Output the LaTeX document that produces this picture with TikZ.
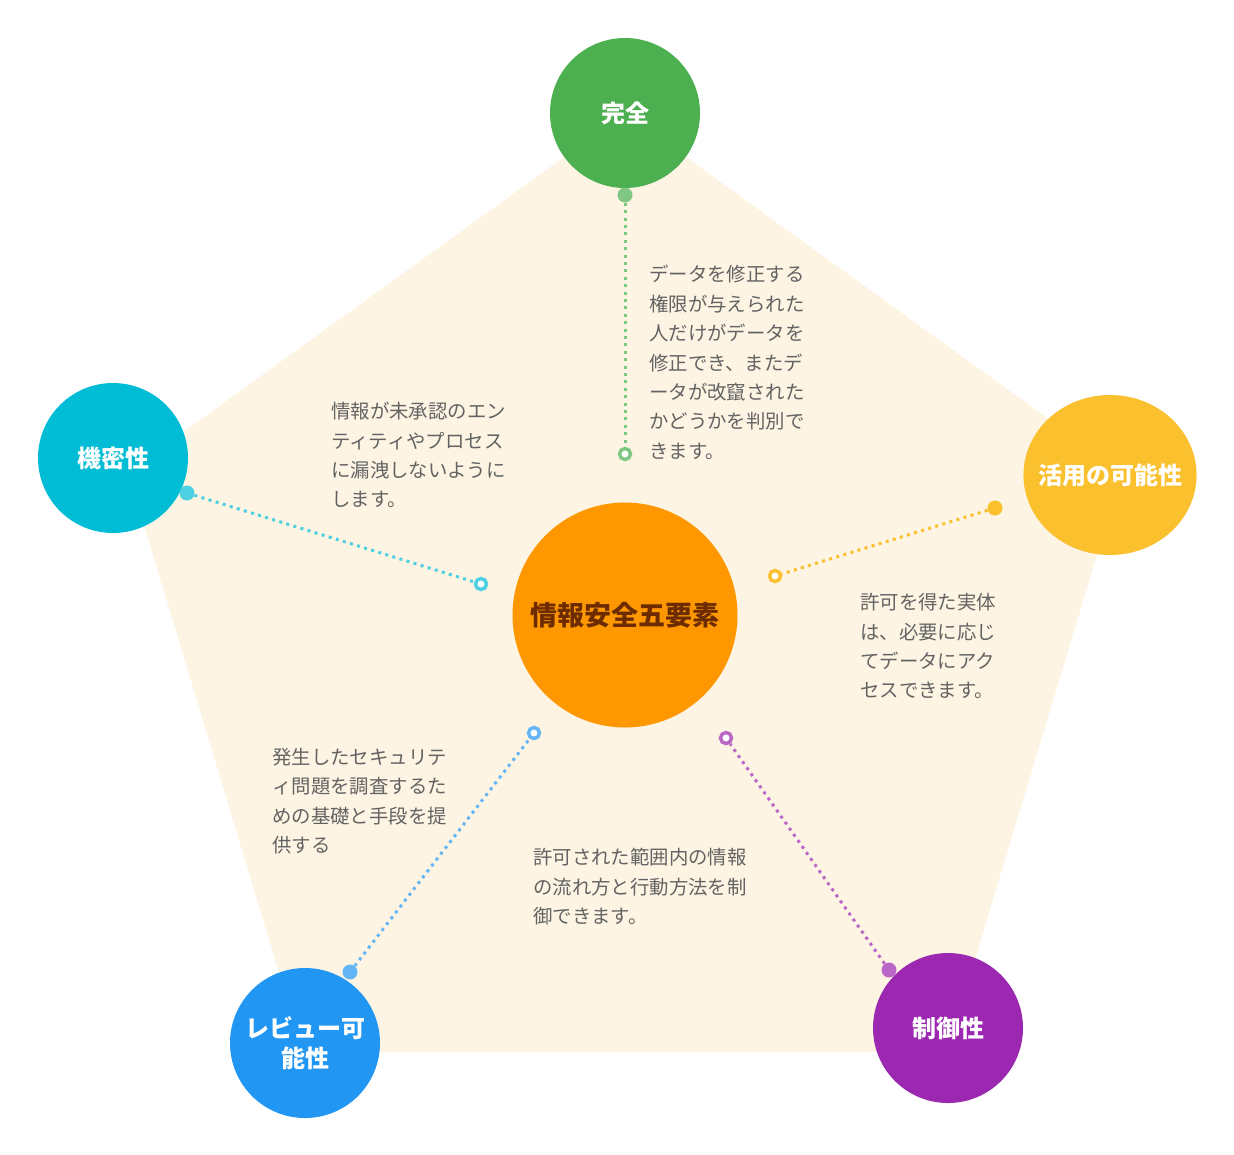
\documentclass[tikz,border=0pt]{standalone}
\usepackage{fontspec}
\setmainfont{Noto Sans CJK JP}
\usetikzlibrary{shapes.geometric}

\definecolor{fondo}{HTML}{FDF4E3}
\definecolor{testo}{HTML}{636363}
\definecolor{verde}{HTML}{4CAF50}
\definecolor{verdel}{HTML}{81C784}
\definecolor{ciano}{HTML}{00BCD4}
\definecolor{cianol}{HTML}{4DD0E1}
\definecolor{giallo}{HTML}{FBC02D}
\definecolor{blu}{HTML}{2196F3}
\definecolor{blul}{HTML}{64B5F6}
\definecolor{viola}{HTML}{9C27B0}
\definecolor{violal}{HTML}{BA68C8}
\definecolor{arancio}{HTML}{FF9800}
\definecolor{marrone}{HTML}{6D2C00}

\begin{document}
\begin{tikzpicture}[x=0.75pt, y=-0.75pt,
    yoso/.style={circle, minimum size=112.5pt, inner sep=0pt, text=white, align=center,
      font=\fontsize{18}{22}\selectfont\bfseries},
    punto/.style={circle, minimum size=11.25pt, inner sep=0pt},
    anello/.style={circle, draw, fill=white, minimum size=8.25pt, inner sep=0pt, line width=2.6pt},
    linea/.style={line width=2.25pt, dash pattern=on 2.25pt off 3.3pt},
    desc/.style={anchor=north west, inner sep=0pt, align=left, text=testo,
      font=\fontsize{14.55}{22.05}\selectfont}]
      \useasboundingbox (0,0) rectangle (1234,1154);

      % Sfondo
      \fill[fondo] (625,113) -- (1122,472) -- (947,1052) -- (303,1052) -- (128,472) -- cycle;

      % Centro
      \node (centro) at (625,615) [circle, fill=arancio, minimum size=168.75pt, inner sep=0pt,
        text=marrone, font=\fontsize{20.25}{24}\selectfont\bfseries] {情報安全五要素};

      % Cerchi esterni
      \node (kanzen) at (625,113) [yoso, fill=verde] {完全};
      \node (kimitsu) at (113,458) [yoso, fill=ciano] {機密性};
      \node (katsuyo) at (1110,475) [ellipse, minimum height=120pt, inner xsep=-8.1pt, inner ysep=0pt,
        fill=giallo, text=white, font=\fontsize{18}{22}\selectfont\bfseries] {活用の可能性};
      \node (review) at (305,1043) [yoso, fill=blu] {レビュー可\\能性};
      \node (seigyo) at (948,1028) [yoso, fill=viola] {制御性};

      % Punti
      \node (kanzen-p) at (625,195) [punto, fill=verdel] {};
      \node (kanzen-a) at (625,454) [anello, draw=verdel] {};
      \node (kimitsu-p) at (187,493) [punto, fill=cianol] {};
      \node (kimitsu-a) at (481,584) [anello, draw=cianol] {};
      \node (katsuyo-p) at (995,508) [punto, fill=giallo] {};
      \node (katsuyo-a) at (775,576) [anello, draw=giallo] {};
      \node (review-p) at (350,972) [punto, fill=blul] {};
      \node (review-a) at (534,733) [anello, draw=blul] {};
      \node (seigyo-p) at (889,970) [punto, fill=violal] {};
      \node (seigyo-a) at (726,738) [anello, draw=violal] {};

      % Collegamenti
      \draw[linea, verdel] (kanzen-p) -- (kanzen-a);
      \draw[linea, cianol] (kimitsu-p) -- (kimitsu-a);
      \draw[linea, giallo] (katsuyo-p) -- (katsuyo-a);
      \draw[linea, blul] (review-p) -- (review-a);
      \draw[linea, violal] (seigyo-p) -- (seigyo-a);

      % Testi
      \node (kanzen-t) at (649,265) [desc] {データを修正する\\権限が与えられた\\人だけがデータを\\修正でき、またデ\\ータが改竄された\\かどうかを判別で\\きます。};
      \node (kimitsu-t) at (331,402) [desc] {情報が未承認のエン\\ティティやプロセス\\に漏洩しないように\\します。};
      \node (katsuyo-t) at (860,593) [desc] {許可を得た実体\\は、必要に応じ\\てデータにアク\\セスできます。};
      \node (review-t) at (272,748) [desc] {発生したセキュリテ\\ィ問題を調査するた\\めの基礎と手段を提\\供する};
      \node (seigyo-t) at (533,848) [desc] {許可された範囲内の情報\\の流れ方と行動方法を制\\御できます。};
    \end{tikzpicture}
\end{document}
